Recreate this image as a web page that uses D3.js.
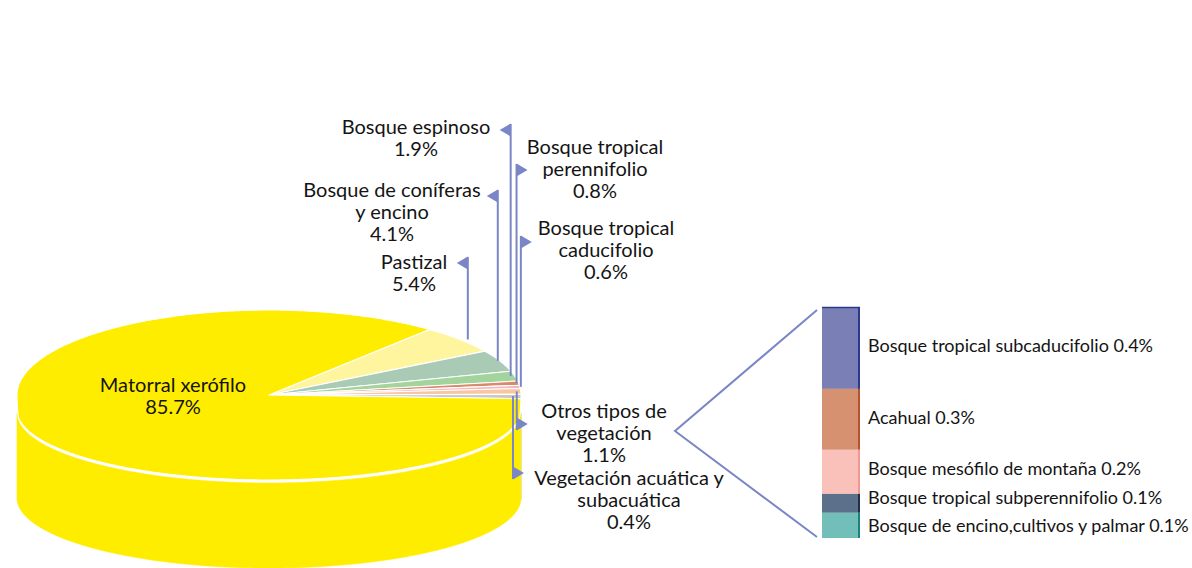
<!DOCTYPE html>
<html><head><meta charset="utf-8">
<script src="https://cdn.jsdelivr.net/npm/d3@7"></script>
<style>
body{margin:0;background:#fff;}
svg{display:block;}
text{font-family:Lato,"Open Sans",sans-serif;fill:#141414;}
</style>
</head><body>
<svg id="chart" width="1192" height="568"></svg>
<script>
// ---------- DATA ----------
const categories = ["Pastizal","Bosque de coníferas y encino","Bosque espinoso","Bosque tropical perennifolio","Bosque tropical caducifolio","Otros tipos de vegetación","Vegetación acuática y subacuática","Matorral xerófilo"];
const labelNameLines = [["Pastizal"],["Bosque de coníferas","y encino"],["Bosque espinoso"],["Bosque tropical","perennifolio"],["Bosque tropical","caducifolio"],["Otros tipos de","vegetación"],["Vegetación acuática y","subacuática"],["Matorral xerófilo"]];
const values = [5.4,4.1,1.9,0.8,0.6,1.1,0.4,85.7];
const colors = ["#FFF59E","#A9CAB5","#A4D49E","#D88B6B","#F7B5C0","#F8C6A0","#C8C8C8","#FFED00"];

const otherCategories = ["Bosque tropical subcaducifolio","Acahual","Bosque mesófilo de montaña","Bosque tropical subperennifolio","Bosque de encino,cultivos y  palmar"];
const otherValues = [0.39,0.29,0.21,0.09,0.12];
const otherColors = ["#7A80B6","#D59170","#F9C1BA","#5C708B","#72BFBA"];
const otherEdges = ["#2B3A8C","#B5532F","#EE9A93","#1F2F4A","#17857C"];

// ---------- LAYOUT ----------
const cx = 269, cy = 395, rx = 252, ryT = 85, ryB = 70, drop = 15, gap = 3, depth = 88;
const startDeg = 39.5;               // d3 pie start angle (clockwise from 12 o'clock)
const leaderColor = "#7A86C6";
// per label: text center x, first baseline, arrow y, arrow side (-1 left, +1 right), line x tweak
const labelLayout = [
  {tx:414, ty:269, ay:263, dir:-1, dx:8},
  {tx:392, ty:197, ay:196, dir:-1, dx:-2},
  {tx:416, ty:134, ay:130, dir:-1, dx:-4},
  {tx:595, ty:154, ay:170, dir: 1, dx:-2},
  {tx:606, ty:235, ay:242, dir: 1, dx:1},
  {tx:604, ty:418, ay:424, dir: 1, dx:-4},
  {tx:629, ty:485, ay:473, dir: 1, dx:-8},
  {tx:173, ty:392, ay:null}
];
const lineH = 22;

const svg = d3.select("#chart");
const fmt = v => d3.format(".1f")(v) + "%";

const pie = d3.pie().sort(null).value(d => d)
  .startAngle(startDeg*Math.PI/180).endAngle(startDeg*Math.PI/180 + 2*Math.PI);
const arcs = pie(values);

const sin6 = Math.sin(6*Math.PI/180);
function rim(t){
  const s = Math.sin(t), c = Math.cos(t);
  if (s >= 0) return [cx + rx*c, cy - ryT*s];
  const f = Math.min(1, -s/sin6);
  return [cx + rx*c, cy + drop*f + ryB*(-s)];
}
function sideY(t, off){ return cy + drop + ryB*(-Math.sin(t)) + off; }
function thetas(a0, a1){
  const t0 = Math.PI/2 - a0, t1 = Math.PI/2 - a1;
  const n = Math.max(2, Math.ceil(Math.abs(t0 - t1)/(0.4*Math.PI/180)));
  return d3.range(n+1).map(i => t0 + (t1 - t0)*i/n);
}

// ---------- SIDE ----------
const gSide = svg.append("g");
arcs.forEach((a,i) => {
  const ts = thetas(a.startAngle, a.endAngle).filter(t => Math.sin(t) <= 0);
  if (ts.length < 2) return;
  const top = ts.map(t => [cx + rx*Math.cos(t), sideY(t, gap)]);
  const bot = ts.map(t => [cx + rx*Math.cos(t), sideY(t, depth)]).reverse();
  gSide.append("path").attr("d", d3.line()(top.concat(bot)) + "Z")
    .attr("fill", colors[i]).attr("stroke", colors[i]).attr("stroke-width", 0.6);
});

// ---------- TOP FACE ----------
const gTop = svg.append("g");
arcs.forEach((a,i) => {
  const pts = [[cx, cy]].concat(thetas(a.startAngle, a.endAngle).map(rim));
  gTop.append("path").attr("d", d3.line()(pts) + "Z")
    .attr("fill", colors[i]).attr("stroke", "#fff").attr("stroke-width", 1.1)
    .attr("stroke-linejoin", "round");
});

// ---------- LABELS & LEADERS ----------
const gLab = svg.append("g");
arcs.forEach((a,i) => {
  const L = labelLayout[i];
  const lines = labelNameLines[i].concat([fmt(values[i])]);
  const t = gLab.append("text").attr("text-anchor","middle").attr("font-size", 20);
  lines.forEach((s,k) => t.append("tspan").attr("x", L.tx).attr("y", L.ty + k*lineH).text(s));
  if (L.ay == null) return;
  const mid = Math.PI/2 - (a.startAngle + a.endAngle)/2;
  const p = rim(mid);
  const lx = p[0] + L.dx;
  const up = L.ay < p[1];
  const lineEnd = up ? L.ay - 6 : L.ay + 6;
  gLab.append("line").attr("x1", lx).attr("x2", lx).attr("y1", p[1]).attr("y2", lineEnd)
    .attr("stroke", leaderColor).attr("stroke-width", 2);
  gLab.append("path")
    .attr("d", `M${lx},${L.ay-6.5}L${lx + L.dir*11},${L.ay}L${lx},${L.ay+6.5}Z`)
    .attr("fill", leaderColor);
});

// ---------- BAR OF PIE ----------
const barX = 822, barW = 38, barTop = 307, barBot = 538;
const yScale = d3.scaleLinear().domain([0, d3.sum(otherValues)]).range([barTop, barBot]);
const cum = d3.cumsum(otherValues);
const gBar = svg.append("g");
const hub = [675, 431];
gBar.append("path")
  .attr("d", `M${barX-5},${barTop+3}L${hub[0]},${hub[1]}L${barX-5},${barBot-1}`)
  .attr("fill","none").attr("stroke", leaderColor).attr("stroke-width", 2);
const barLabelDy = [-1, 0, -2, -4, 2];
otherValues.forEach((v,i) => {
  const y0 = yScale(cum[i] - v), y1 = yScale(cum[i]);
  gBar.append("rect").attr("x", barX).attr("y", y0).attr("width", barW).attr("height", y1 - y0)
    .attr("fill", otherColors[i]);
  gBar.append("line").attr("x1", barX + barW - 1).attr("x2", barX + barW - 1).attr("y1", y0).attr("y2", y1)
    .attr("stroke", otherEdges[i]).attr("stroke-width", 2);
  if (i === 0) gBar.append("line").attr("x1", barX).attr("x2", barX + barW).attr("y1", y0 + 0.5).attr("y2", y0 + 0.5)
    .attr("stroke", otherEdges[i]).attr("stroke-width", 1.5);
  gBar.append("text").attr("x", 868).attr("y", (y0 + y1)/2 + 5 + barLabelDy[i])
    .attr("font-size", 18).text(otherCategories[i] + " " + fmt(v));
});
</script>
</body></html>
